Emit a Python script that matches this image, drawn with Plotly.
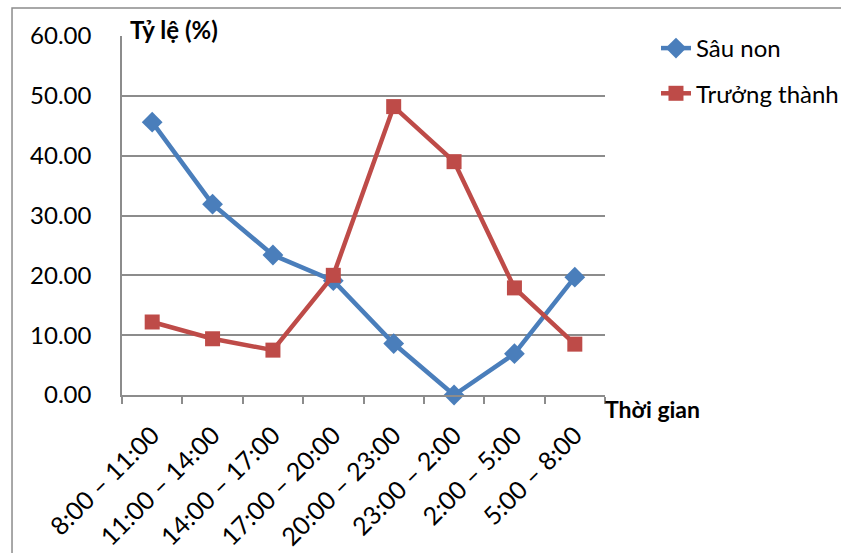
import plotly.graph_objects as go

# Time windows (x categories)
time_slots = ["8:00 – 11:00", "11:00 – 14:00", "14:00 – 17:00", "17:00 – 20:00",
              "20:00 – 23:00", "23:00 – 2:00", "2:00 – 5:00", "5:00 – 8:00"]

# Percentage of activity per time window
larva = [45.6, 31.9, 23.4, 19.1, 8.6, 0.0, 6.9, 19.7]
adult = [12.2, 9.4, 7.5, 20.0, 48.2, 39.0, 17.9, 8.5]

y_ticks = [0, 10, 20, 30, 40, 50, 60]

FONT = "Lato, 'Open Sans', sans-serif"
BLUE = "#4A7EBB"
RED = "#BE4B48"
GRID = "#8C8C8C"

fig = go.Figure()
fig.add_trace(go.Scatter(
    x=time_slots, y=larva, name="Sâu non", mode="lines+markers",
    line=dict(color=BLUE, width=4.5),
    marker=dict(symbol="diamond", size=16, color=BLUE),
    cliponaxis=False, legendgroup="a",
))
fig.add_trace(go.Scatter(
    x=time_slots, y=adult, name="Trưởng thành", mode="lines+markers",
    line=dict(color=RED, width=4.5),
    marker=dict(symbol="square", size=15, color=RED),
    cliponaxis=False, legendgroup="b",
))

fig.update_layout(
    width=841, height=553, autosize=False,
    margin=dict(l=122, r=236, t=36, b=158, autoexpand=False),
    paper_bgcolor="white", plot_bgcolor="white",
    font=dict(family=FONT, size=24, color="black"),
    showlegend=True,
    legend=dict(
        xref="container", yref="container",
        x=0.78, xanchor="left", y=0.953, yanchor="top",
        font=dict(family=FONT, size=24, color="black"),
        bgcolor="rgba(0,0,0,0)", traceorder="grouped", tracegroupgap=11,
    ),
    xaxis=dict(
        type="category", range=[-0.5, 7.5], showgrid=False, automargin=False,
        showline=True, linecolor=GRID, linewidth=1.5,
        ticks="outside", tickson="boundaries", ticklen=7, tickcolor=GRID, tickwidth=1.5,
        tickangle=-45, ticklabelstandoff=14,
        tickfont=dict(family=FONT, size=25, color="black"),
    ),
    yaxis=dict(
        range=[0, 60], tickvals=y_ticks, ticktext=[f"{v:.2f}" for v in y_ticks],
        showgrid=True, gridcolor=GRID, gridwidth=1.5, zeroline=False, automargin=False,
        showline=True, linecolor=GRID, linewidth=1.5, ticks="",
        tickfont=dict(family=FONT, size=24, color="black"), ticklabelstandoff=24,
    ),
    shapes=[dict(
        type="rect", xref="paper", yref="paper",
        x0=-0.2277, x1=3.0, y0=-3.0, y1=1.078,
        line=dict(color="#8C8C8C", width=1.5), layer="below",
    )],
    annotations=[
        dict(text="<b>Tỷ lệ (%)</b>", xref="paper", yref="paper",
             x=0.012, y=1.017, xanchor="left", yanchor="middle", showarrow=False,
             font=dict(family=FONT, size=24, color="black")),
        dict(text="<b>Thời gian</b>", xref="paper", yref="paper",
             x=0.996, y=-0.039, xanchor="left", yanchor="middle", showarrow=False,
             font=dict(family=FONT, size=23, color="black")),
    ],
)

fig.write_html("out.html")
